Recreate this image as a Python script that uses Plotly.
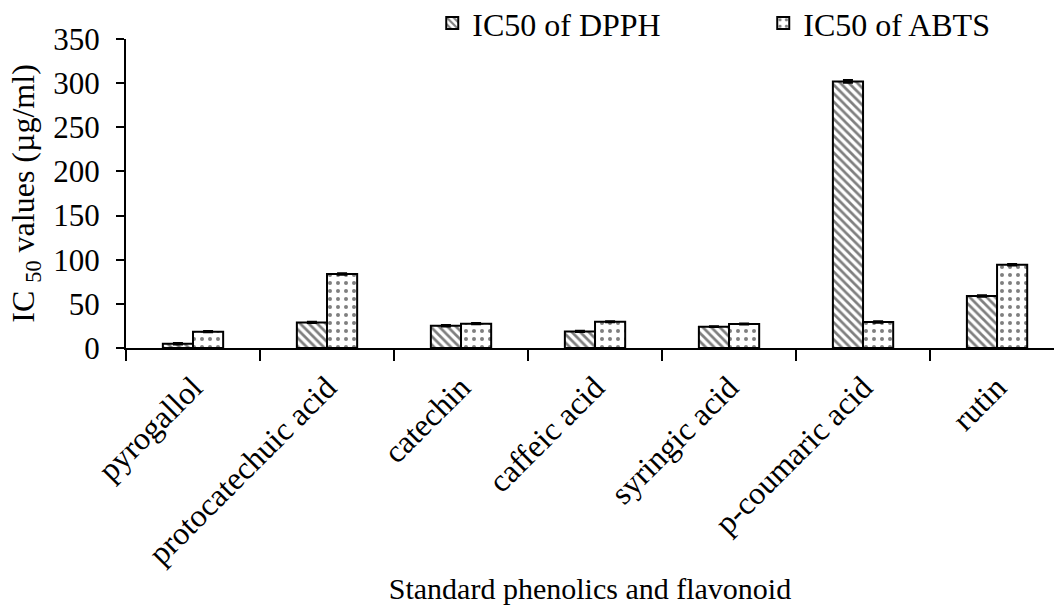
import plotly.graph_objects as go

# IC50 values (µg/ml) of standard phenolics and flavonoid
compounds = ["pyrogallol", "protocatechuic acid", "catechin", "caffeic acid",
             "syringic acid", "p-coumaric acid", "rutin"]
dpph_ic50 = [4.9, 29.0, 25.2, 18.8, 24.2, 302.0, 58.9]
abts_ic50 = [18.5, 83.8, 27.5, 29.8, 27.2, 29.4, 94.3]
dpph_err = [0.8, 0.6, 0.8, 0.6, 0.5, 1.5, 0.8]
abts_err = [0.8, 0.8, 0.7, 0.6, 0.6, 0.8, 0.9]
y_ticks = [0, 50, 100, 150, 200, 250, 300, 350]

FONT = "Liberation Serif"

fig = go.Figure()
fig.add_trace(go.Bar(
    x=compounds, y=dpph_ic50, name="IC50 of DPPH",
    marker=dict(color="white", line=dict(color="black", width=2),
                pattern=dict(shape="\\", fgcolor="black", bgcolor="white",
                             size=6, solidity=0.45)),
    error_y=dict(type="data", array=dpph_err, color="black",
                 thickness=2, width=5),
))
fig.add_trace(go.Bar(
    x=compounds, y=abts_ic50, name="IC50 of ABTS",
    marker=dict(color="white", line=dict(color="black", width=2),
                pattern=dict(shape=".", fgcolor="black", bgcolor="white",
                             size=8, solidity=0.2)),
    error_y=dict(type="data", array=abts_err, color="black",
                 thickness=2, width=5),
))

fig.update_layout(
    width=1054, height=615,
    margin=dict(l=126, r=0, t=39, b=267, autoexpand=False),
    plot_bgcolor="white", paper_bgcolor="white",
    font=dict(family=FONT, size=30, color="black"),
    barmode="group", bargap=0.55, bargroupgap=0,
    showlegend=True,
    legend=dict(orientation="h", x=0.33, xanchor="left",
                y=1.14, yanchor="top",
                font=dict(family=FONT, size=32, color="black"),
                entrywidth=286, entrywidthmode="pixels",
                bgcolor="rgba(0,0,0,0)"),
    xaxis=dict(
        range=[-0.5, 6.425], automargin=False,
        showline=True, linecolor="black", linewidth=2,
        ticks="outside", tickson="boundaries", ticklen=11,
        tickwidth=2, tickcolor="black",
        tickangle=-45, showgrid=False, zeroline=False,
        ticklabelstandoff=6,
        tickfont=dict(family=FONT, size=32),
        title=dict(text="Standard phenolics and flavonoid",
                   font=dict(family=FONT, size=30), standoff=8),
    ),
    yaxis=dict(
        range=[0, 350], tickvals=y_ticks, automargin=False,
        showline=True, linecolor="black", linewidth=2,
        ticks="outside", ticklen=8, tickwidth=2, tickcolor="black",
        showgrid=False, zeroline=False,
        ticklabelstandoff=10,
        tickfont=dict(family=FONT, size=31),
        title=dict(text="IC <sub>50</sub> values (µg/ml)",
                   font=dict(family=FONT, size=32), standoff=9),
    ),
)

fig.write_html("out.html")
